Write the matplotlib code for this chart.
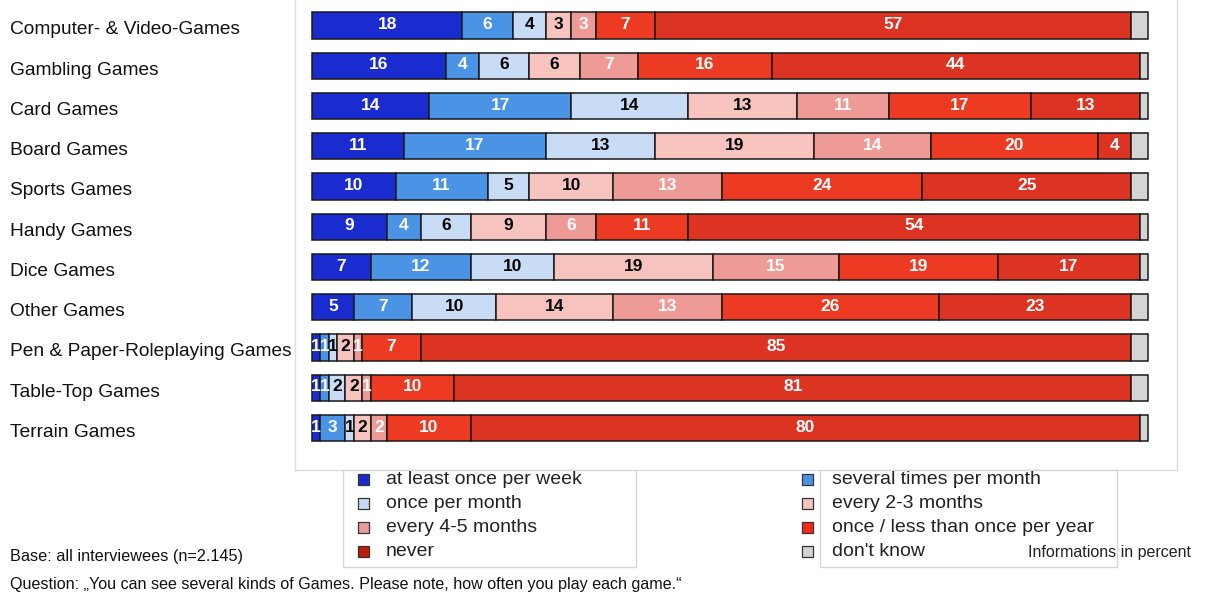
import matplotlib
matplotlib.use("Agg")
import matplotlib.pyplot as plt
from matplotlib.patches import Rectangle
from matplotlib.transforms import blended_transform_factory
import numpy as np

plt.rcParams['font.family'] = ['Liberation Sans', 'DejaVu Sans']

games = [
    "Computer- & Video-Games", "Gambling Games", "Card Games", "Board Games",
    "Sports Games", "Handy Games", "Dice Games", "Other Games",
    "Pen & Paper-Roleplaying Games", "Table-Top Games", "Terrain Games",
]

frequencies = [
    "at least once per week", "several times per month", "once per month",
    "every 2-3 months", "every 4-5 months", "once / less than once per year",
    "never", "don't know",
]

weekly      = [18, 16, 14, 11, 10, 9, 7, 5, 1, 1, 1]
several     = [6, 4, 17, 17, 11, 4, 12, 7, 1, 1, 3]
monthly     = [4, 6, 14, 13, 5, 6, 10, 10, 1, 2, 1]
two_three   = [3, 6, 13, 19, 10, 9, 19, 14, 2, 2, 2]
four_five   = [3, 7, 11, 14, 13, 6, 15, 13, 1, 1, 2]
yearly      = [7, 16, 17, 20, 24, 11, 19, 26, 7, 10, 10]
never       = [57, 44, 13, 4, 25, 54, 17, 23, 85, 81, 80]
dont_know   = [2, 1, 1, 2, 2, 1, 1, 2, 2, 2, 1]

series = [weekly, several, monthly, two_three, four_five, yearly, never, dont_know]
colors = ["#1a2ccf", "#4b93e4", "#c8ddf5", "#f6c3bf", "#ee9a96",
          "#ec3b22", "#dc3322", "#d4d4d4"]
legend_colors = ["#1a2ad0", "#4b93e4", "#c8ddf5", "#f6c3bf", "#ee9a96",
                 "#ee2a10", "#c01a08", "#d4d4d4"]
text_colors = ["white", "white", "black", "black", "white", "white", "white", None]

W, H = 1205, 594
fig = plt.figure(figsize=(W / 100, H / 100), dpi=100)
fig.patch.set_facecolor("white")

# plotting panel placed in pixel terms
px_left, px_right, px_top, px_bot = 295, 1177, 0, 470
bar_x0, bar_x1 = 312, 1148
row0, row_step = 25.5, 40.25
scale = (bar_x1 - bar_x0) / 100.0

ax = fig.add_axes([px_left / W, 1 - px_bot / H, (px_right - px_left) / W, (px_bot - px_top) / H])
ax.set_xlim((px_left - bar_x0) / scale, 100 + (px_right - bar_x1) / scale)
ax.set_ylim((px_bot - row0) / row_step, (px_top - row0) / row_step)
ax.set_xticks([])
ax.set_yticks([])
for side in ["left", "right", "bottom"]:
    ax.spines[side].set_color("#dcdcdc")
    ax.spines[side].set_linewidth(1.0)
ax.spines["top"].set_visible(False)

y = np.arange(len(games))
left = np.zeros(len(games))
for vals, col, tcol in zip(series, colors, text_colors):
    vals = np.array(vals, dtype=float)
    ax.barh(y, vals, left=left, height=0.65, color=col,
            edgecolor="#1a1a1a", linewidth=1.1)
    if tcol is not None:
        for yi, (l, v) in enumerate(zip(left, vals)):
            ax.text(l + v / 2, yi - 0.02, f"{int(v)}", ha="center", va="center",
                    color=tcol, fontsize=12.5, fontweight="bold")
    left += vals

# category labels on the left
tr = blended_transform_factory(fig.transFigure, ax.transData)
for yi, name in enumerate(games):
    ax.text(10 / W, yi + 0.11, name, transform=tr, ha="left", va="center",
            fontsize=13.8, color="#111111", clip_on=False)

# legend boxes
def fx(px):
    return px / W

def fy(py):
    return 1 - py / H

for (x0, x1) in [(343, 636), (820, 1117)]:
    fig.patches.append(Rectangle((fx(x0), fy(567)), fx(x1) - fx(x0), fy(470) - fy(567),
                                 transform=fig.transFigure, facecolor="white",
                                 edgecolor="#d6d6d6", linewidth=1.0, zorder=1))

legend_rows = [479, 503, 527, 551]
left_items = [0, 2, 4, 6]
right_items = [1, 3, 5, 7]
sq = 11
for items, sq_x, txt_x in [(left_items, 363, 386), (right_items, 807, 832)]:
    for ry, idx in zip(legend_rows, items):
        fig.patches.append(Rectangle((fx(sq_x - sq / 2), fy(ry + sq / 2)), sq / W, sq / H,
                                     transform=fig.transFigure,
                                     facecolor=legend_colors[idx], edgecolor="#333333",
                                     linewidth=0.9, zorder=3))
        fig.text(fx(txt_x), fy(ry), frequencies[idx], ha="left", va="center",
                 fontsize=14, color="#222222", zorder=4)

fig.text(fx(1028), fy(552), "Informations in percent", ha="left", va="center",
         fontsize=11.5, color="#222222", zorder=4)
fig.text(fx(10), fy(556), "Base: all interviewees (n=2.145)", ha="left", va="center",
         fontsize=11.7, color="#111111")
fig.text(fx(10), fy(584),
         "Question: \u201eYou can see several kinds of Games. Please note, how often you play each game.\u201c",
         ha="left", va="center", fontsize=11.6, color="#111111")

fig.savefig("out.png", dpi=100)
